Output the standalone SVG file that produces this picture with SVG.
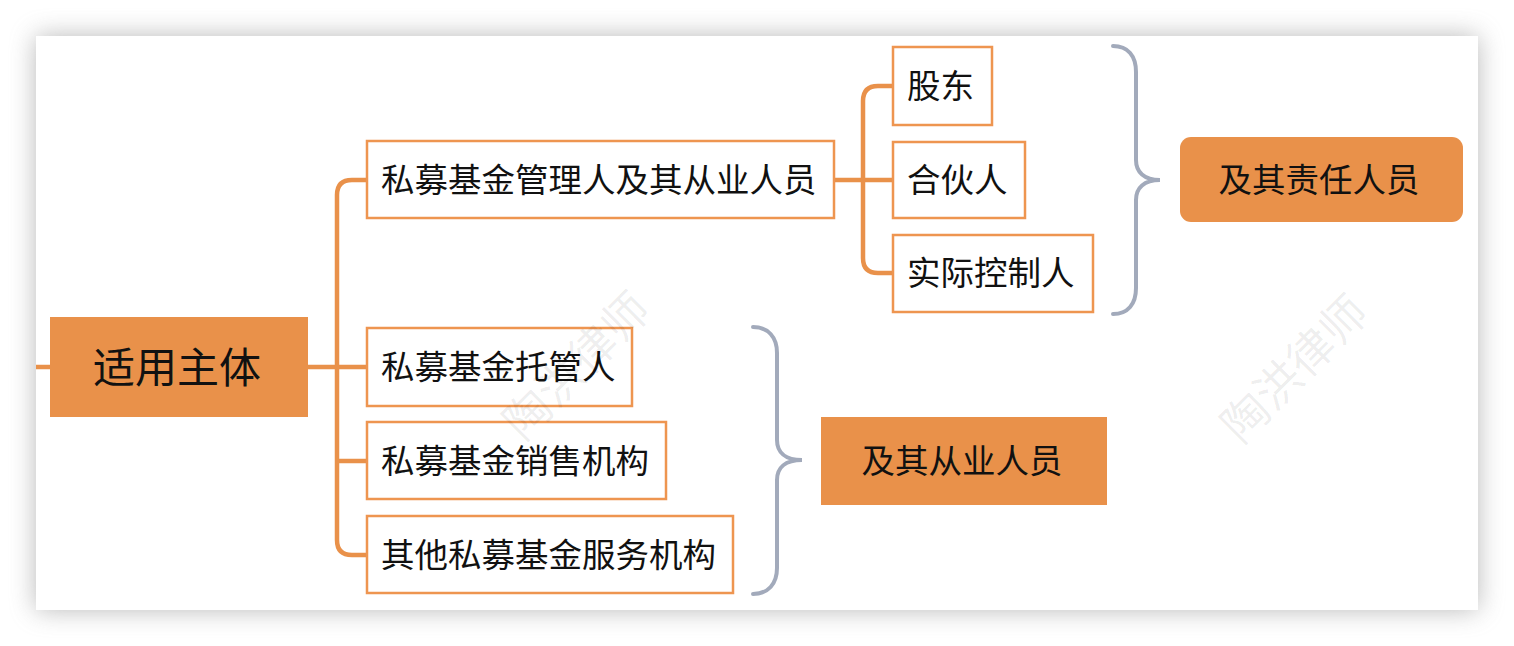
<svg xmlns="http://www.w3.org/2000/svg" width="1514" height="646" viewBox="0 0 1514 646">
  <style>
    .box { fill: #ffffff; stroke: #EE9550; stroke-width: 2.5; }
    .fill { fill: #E9914A; }
    .t { font-family: "Noto Sans CJK SC", "Noto Sans", sans-serif; font-size: 33.5px; fill: #111111; }
    .root { font-size: 42px; }
    .conn { fill: none; stroke: #E9914A; stroke-width: 4.5; stroke-linecap: butt; stroke-linejoin: round; }
    .brace { fill: none; stroke: #A2AABB; stroke-width: 4; stroke-linecap: round; }
    .wm { font-family: "Noto Sans CJK SC", sans-serif; font-size: 46px; fill: #000000; fill-opacity: 0.07; }
  </style>
  <defs>
    <filter id="sh" x="-10%" y="-20%" width="120%" height="140%">
      <feGaussianBlur stdDeviation="13"/>
    </filter>
  </defs>
  <rect x="0" y="0" width="1514" height="646" fill="#ffffff"/>
  <rect x="36" y="36" width="1442" height="574" fill="#8a8a8a" opacity="0.6" filter="url(#sh)"/>
  <rect x="36" y="36" width="1442" height="574" fill="#ffffff"/>

  <g id="connectors">
    <path class="conn" d="M36,367 L50,367"/>
    <path class="conn" d="M308,367 L367,367"/>
    <path class="conn" d="M367,180 L352,180 Q337,180 337,195 L337,540 Q337,555 352,555 L367,555"/>
    <path class="conn" d="M337,461 L367,461"/>
    <path class="conn" d="M834,180 L893,180"/>
    <path class="conn" d="M893,86 L878,86 Q863,86 863,101 L863,258 Q863,273 878,273 L893,273"/>
    <path class="brace" d="M1113,46 C1128,46 1136,56 1136,72 L1136,160 C1136,172 1144,180 1160,180 C1144,180 1136,188 1136,200 L1136,288 C1136,304 1128,314 1113,314"/>
    <path class="brace" d="M753,327 C768,327 777,337 777,353 L777,440 C777,452 785,460 802,460 C785,460 777,468 777,480 L777,568 C777,584 768,594 753,594"/>
  </g>

  <g id="root">
    <rect class="fill" x="50" y="317" width="258" height="100"/>
    <text class="t root" x="177" y="383" text-anchor="middle">适用主体</text>
  </g>

  <g id="manager">
    <rect class="box" x="367" y="141" width="467" height="77"/>
    <text class="t" x="381" y="192">私募基金管理人及其从业人员</text>
  </g>
  <g id="custodian">
    <rect class="box" x="367" y="328" width="265" height="78"/>
    <text class="t" x="381" y="379">私募基金托管人</text>
  </g>
  <g id="sales">
    <rect class="box" x="367" y="422" width="299" height="77"/>
    <text class="t" x="381" y="473">私募基金销售机构</text>
  </g>
  <g id="service">
    <rect class="box" x="367" y="516" width="366" height="77"/>
    <text class="t" x="381" y="567">其他私募基金服务机构</text>
  </g>

  <g id="shareholder">
    <rect class="box" x="893" y="47" width="99" height="78"/>
    <text class="t" x="907" y="98">股东</text>
  </g>
  <g id="partner">
    <rect class="box" x="893" y="142" width="132" height="76"/>
    <text class="t" x="907" y="192">合伙人</text>
  </g>
  <g id="controller">
    <rect class="box" x="893" y="235" width="200" height="77"/>
    <text class="t" x="907" y="285">实际控制人</text>
  </g>

  <g id="responsible">
    <rect class="fill" x="1180" y="137" width="283" height="85" rx="11"/>
    <text class="t" x="1319" y="192" text-anchor="middle">及其责任人员</text>
  </g>
  <g id="staff">
    <rect class="fill" x="821" y="417" width="286" height="88"/>
    <text class="t" x="962" y="473" text-anchor="middle">及其从业人员</text>
  </g>

  <g id="watermarks">
    <text class="wm" x="577" y="382" text-anchor="middle" transform="rotate(-45 577 366)">陶洪律师</text>
    <text class="wm" x="1295" y="385" text-anchor="middle" transform="rotate(-45 1295 369)">陶洪律师</text>
  </g>
</svg>
